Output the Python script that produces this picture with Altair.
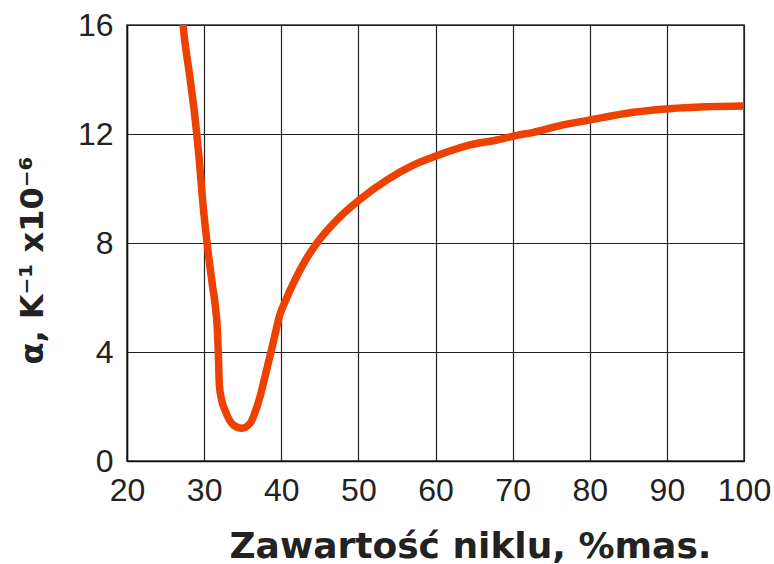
import altair as alt
import pandas as pd

# Thermal expansion coefficient of Fe-Ni alloys vs nickel content
nickel_pct = [27.2, 27.3, 28.17, 28.8, 29.37, 29.8, 30.24, 30.54, 31.1, 31.41,
              31.71, 31.84, 31.97, 32.27, 32.7, 33.78, 34.87, 35.95, 37.0, 38.1,
              39.0, 39.8, 40.5, 41.56, 43.0, 44.6, 47.19, 50.12, 53.67, 57.12,
              60.15, 64.47, 67.93, 70.73, 72.68, 76.0, 79.9, 85.65, 90.3, 95.0, 100.0]
alpha = [16.2, 15.9, 14.05, 12.64, 11.05, 9.58, 8.36, 7.62, 6.4, 5.79,
         4.85, 4.0, 2.8, 2.24, 1.87, 1.32, 1.2, 1.38, 2.12, 3.34,
         4.4, 5.35, 5.85, 6.52, 7.3, 7.99, 8.84, 9.58, 10.31, 10.86,
         11.2, 11.6, 11.78, 11.96, 12.06, 12.3, 12.51, 12.8, 12.93, 13.0, 13.03]

x_ticks = [20, 30, 40, 50, 60, 70, 80, 90, 100]
y_ticks = [0, 4, 8, 12, 16]

df = pd.DataFrame({"ni": nickel_pct, "alpha": alpha})

line = alt.Chart(df).mark_line(
    color="#EE4000", strokeWidth=7.5, interpolate="monotone", clip=True, strokeCap="butt"
).encode(
    x=alt.X("ni:Q",
            scale=alt.Scale(domain=[20, 100], nice=False, zero=False),
            axis=alt.Axis(values=x_ticks, title="Zawartość niklu, %mas.",
                          labelFlush=False, labelOverlap=False,
                          labelBaseline="alphabetic", labelPadding=39,
                          titleFontSize=36,
                          titleX=343, titleY=96, titleBaseline="alphabetic",
                          titleAlign="center")),
    y=alt.Y("alpha:Q",
            scale=alt.Scale(domain=[0, 16], nice=False),
            axis=alt.Axis(values=y_ticks, title="α,  K⁻¹ x10⁻⁶",
                          labelPadding=14, labelOverlap=False, labelFlush=False,
                          titleFontSize=32,
                          titleX=-85, titleY=235, titleAngle=270,
                          titleBaseline="alphabetic", titleAlign="center")),
)

chart = line.properties(
    width=617, height=436,
    background="white",
    autosize=alt.AutoSizeParams(type="none"),
    padding={"left": 127, "top": 25, "right": 30, "bottom": 103},
).configure_view(
    stroke="#333333", strokeWidth=1.5
).configure_axis(
    grid=True, gridColor="#222222", gridWidth=1.2, gridOpacity=1,
    domainColor="#111111", domainWidth=1.5,
    ticks=False, tickSize=0,
    labelFont="Liberation Sans", labelFontSize=32, labelColor="#222222",
    titleFont="DejaVu Sans", titleFontWeight="bold",
    titleColor="#222222",
)

chart.save("out.html", embed_options={"renderer": "svg", "actions": False})
